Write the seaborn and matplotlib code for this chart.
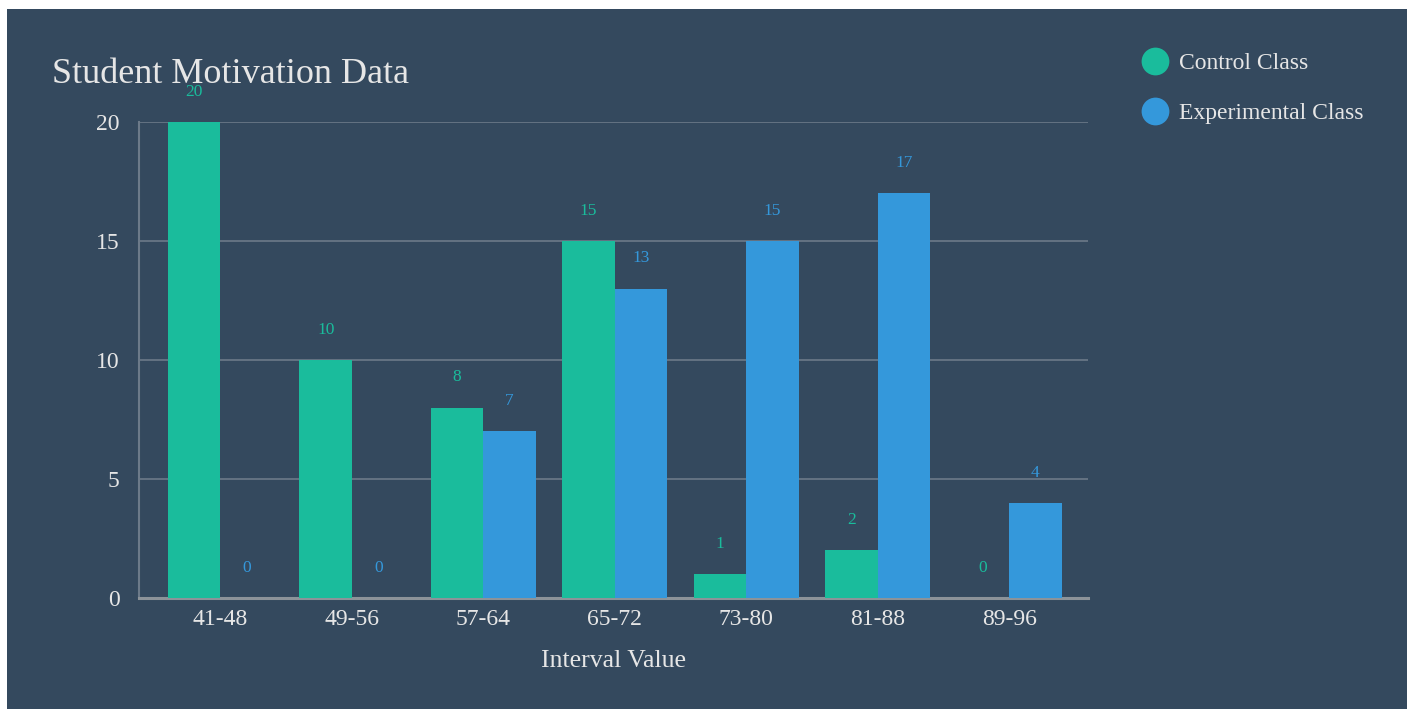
import matplotlib
matplotlib.use("Agg")
import matplotlib.pyplot as plt
import seaborn as sns
import pandas as pd
from matplotlib.lines import Line2D
from matplotlib.patches import Rectangle

intervals = ["41-48", "49-56", "57-64", "65-72", "73-80", "81-88", "89-96"]
control = [20, 10, 8, 15, 1, 2, 0]
experimental = [0, 0, 7, 13, 15, 17, 4]
series = ["Control Class", "Experimental Class"]
colors = {"Control Class": "#1abc9c", "Experimental Class": "#3498db"}

bg = "#34495e"
text_col = "#e6e6e6"

df = pd.DataFrame({
    "Interval": intervals * 2,
    "Count": control + experimental,
    "Class": [series[0]] * len(intervals) + [series[1]] * len(intervals),
})

sns.set_theme(style="white")
plt.rcParams["font.family"] = ["Liberation Serif", "DejaVu Serif"]

fig = plt.figure(figsize=(14.07, 7.09), dpi=100, facecolor="white")
fig.patches.append(Rectangle((7 / 1407, 0), 1, 1 - 9 / 709, transform=fig.transFigure,
                             facecolor=bg, edgecolor="none", zorder=-10))
ax = fig.add_axes([139 / 1407, 1 - 598 / 709, (1088 - 139) / 1407, (598 - 122) / 709])
ax.set_facecolor(bg)

sns.barplot(data=df, x="Interval", y="Count", hue="Class", palette=colors,
            width=0.8, linewidth=0, saturation=1, ax=ax, legend=False, zorder=3)

# value labels over each bar
for cont, name in zip(ax.containers, series):
    ax.bar_label(cont, labels=[str(v) for v in df[df["Class"] == name]["Count"]],
                 padding=16, color=colors[name], fontsize=12.5, clip_on=False)

ax.set_xlim(-0.62, 6.6)
ax.set_ylim(0, 20)
ax.set_yticks([0, 5, 10, 15, 20])
ax.grid(axis="y", color="#6c7a89", linewidth=1.2, zorder=0)
ax.grid(axis="x", visible=False)
for s in ["top", "right"]:
    ax.spines[s].set_visible(False)
ax.spines["left"].set_color("#6c7a89")
ax.spines["left"].set_linewidth(1.5)
ax.spines["bottom"].set_color("#8c9399")
ax.spines["bottom"].set_linewidth(2.2)
ax.tick_params(axis="y", length=0, pad=14, labelsize=17, labelcolor=text_col)
ax.tick_params(axis="x", length=0, pad=8, labelsize=17, labelcolor=text_col)
ax.set_ylabel("")
ax.set_xlabel("Interval Value", fontsize=18.5, color=text_col, labelpad=14)

fig.text(52 / 1407, 1 - 83 / 709, "Student Motivation Data", fontsize=26,
         color=text_col, va="baseline", ha="left")

handles = [Line2D([], [], marker="o", linestyle="none", markersize=20,
                  markerfacecolor=colors[n], markeredgecolor="none") for n in series]
leg = fig.legend(handles, series, loc="upper left", bbox_to_anchor=(1128 / 1407, 1 - 43 / 709),
                 frameon=False, fontsize=17, labelspacing=1.2, handletextpad=0.25,
                 handlelength=1.5, borderaxespad=0)
for t in leg.get_texts():
    t.set_color(text_col)

fig.savefig("out.png", dpi=100, facecolor=fig.get_facecolor())
